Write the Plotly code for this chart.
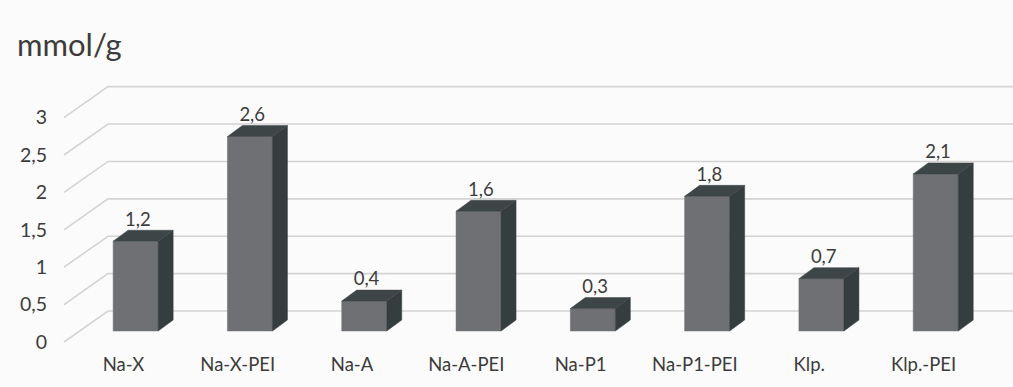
import plotly.graph_objects as go

# Data
categories = ["Na-X", "Na-X-PEI", "Na-A", "Na-A-PEI", "Na-P1", "Na-P1-PEI", "Klp.", "Klp.-PEI"]
values = [1.2, 2.6, 0.4, 1.6, 0.3, 1.8, 0.7, 2.1]
value_labels = ["1,2", "2,6", "0,4", "1,6", "0,3", "1,8", "0,7", "2,1"]
y_ticks = [0, 0.5, 1, 1.5, 2, 2.5, 3]
y_tick_labels = ["0", "0,5", "1", "1,5", "2", "2,5", "3"]

# 3D projection parameters (axis units; y axis is the front plane)
WALL_DX, WALL_DY = 0.385, 0.414      # back wall offset from front plane
BAR_DX, BAR_DY = 0.137, 0.147        # bar front face offset from front plane
DEPTH_DX, DEPTH_DY = 0.131, 0.147    # bar depth
BAR_W = 0.394
SIDE_X0 = -0.49                      # left edge of floor/side wall lines

GRID = "#d4d4d4"
FRONT = "#6e7073"
SIDE = "#363d3f"
TOP = "#3e4547"
TEXT = "#3c3c3c"
FONT = "Lato"

fig = go.Figure()

# Back wall gridlines and the diagonal lines of the side wall
for t in y_ticks:
    fig.add_trace(go.Scatter(
        x=[SIDE_X0, SIDE_X0 + WALL_DX, 8.2],
        y=[t, t + WALL_DY, t + WALL_DY],
        mode="lines", line=dict(color=GRID, width=1.6),
        hoverinfo="skip", showlegend=False))

# Bars: front face, side face and top face
for i, v in enumerate(values):
    x0 = i + BAR_DX - BAR_W / 2
    x1 = x0 + BAR_W
    y0 = BAR_DY
    y1 = v + BAR_DY
    faces = [
        ([x0, x1, x1, x0, x0], [y0, y0, y1, y1, y0], FRONT),
        ([x1, x1 + DEPTH_DX, x1 + DEPTH_DX, x1, x1],
         [y0, y0 + DEPTH_DY, y1 + DEPTH_DY, y1, y0], SIDE),
        ([x0, x1, x1 + DEPTH_DX, x0 + DEPTH_DX, x0],
         [y1, y1, y1 + DEPTH_DY, y1 + DEPTH_DY, y1], TOP),
    ]
    for fx, fy, col in faces:
        fig.add_trace(go.Scatter(
            x=fx, y=fy, mode="lines", fill="toself", fillcolor=col,
            line=dict(color=col, width=0.5),
            hoverinfo="skip", showlegend=False))

# Value labels above each bar
fig.add_trace(go.Scatter(
    x=[i + BAR_DX + 0.02 for i in range(len(values))],
    y=[v + BAR_DY + DEPTH_DY for v in values],
    mode="text", text=value_labels, textposition="top center",
    textfont=dict(family=FONT, size=18.5, color=TEXT),
    hoverinfo="skip", showlegend=False))

fig.update_layout(
    width=1013, height=387,
    margin=dict(l=52, r=0, t=0, b=40),
    paper_bgcolor="#fbfbfb", plot_bgcolor="#fbfbfb",
    font=dict(family=FONT, color=TEXT),
    xaxis=dict(
        range=[-0.5949, 7.813], showgrid=False, zeroline=False, showline=False,
        tickmode="array", tickvals=[i + 0.03 for i in range(len(categories))],
        ticktext=categories, ticks="", tickfont=dict(family=FONT, size=18.5, color=TEXT),
        ticklabelstandoff=4),
    yaxis=dict(
        range=[-0.0668, 4.572], showgrid=False, zeroline=False, showline=False,
        tickmode="array", tickvals=y_ticks, ticktext=y_tick_labels, ticks="",
        tickfont=dict(family=FONT, size=19.5, color=TEXT), ticklabelstandoff=4),
    annotations=[dict(
        text="mmol/g", xref="paper", yref="paper", x=-0.039, y=0.872,
        xanchor="left", yanchor="middle", showarrow=False,
        font=dict(family=FONT, size=31, color=TEXT))],
)

fig.write_html("out.html")
